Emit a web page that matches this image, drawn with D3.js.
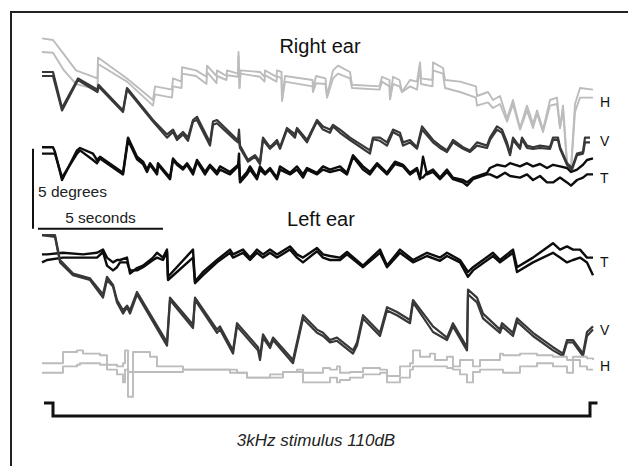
<!DOCTYPE html>
<html>
<head>
<meta charset="utf-8">
<script src="https://cdn.jsdelivr.net/npm/d3@7"></script>
<style>
  body { margin: 0; background: #fff; }
  svg { display: block; font-family: "Liberation Sans", Arial, sans-serif; }
</style>
</head>
<body>
<div id="chart"></div>
<script>
// Eye position traces during a 3kHz 110dB stimulus
// each row: [time (s), eye position line 1 (deg), line 2 (deg)]
const rightH = [
  [0, 12.6, 11.75], [0.44, 12.5, 11.7], [0.88, 11.6, 10.6], [1.36, 10.6, 9.75], [2.22, 10.1, 9.4],
  [2.24, 11.4, 11.0], [3.4, 10.1, 9.9], [4.44, 8.75, 8.4], [4.52, 9.6, 9.1], [5.2, 9.4, 8.9],
  [5.24, 10.1, 9.6], [5.58, 9.9, 9.5], [5.6, 10.8, 10.4], [6.16, 10.6, 10.25], [6.58, 10.2, 9.75],
  [6.6, 10.9, 10.5], [6.98, 10.25, 9.8], [7.0, 10.6, 10.25], [7.38, 10.25, 10.0], [7.4, 10.6, 10.3],
  [7.84, 10.4, 10.2], [7.86, 11.75, 11.5], [7.9, 9.5, 9.5], [7.94, 10.6, 10.4], [8.72, 10.5, 10.2],
  [8.9, 10.2, 9.9], [8.92, 10.6, 10.3], [9.38, 10.2, 9.9], [9.4, 10.6, 10.25], [9.58, 10.5, 10.1],
  [9.6, 8.7, 8.7], [9.72, 10.25, 9.9], [10.82, 10.0, 9.6], [10.84, 9.4, 9.25], [10.96, 10.25, 9.8],
  [11.34, 10.1, 9.75], [11.4, 9.0, 8.9], [11.64, 10.6, 10.1], [11.84, 10.9, 10.4], [12.32, 10.5, 10.1],
  [12.4, 9.7, 9.5], [13.5, 9.6, 9.4], [13.6, 10.2, 9.9], [13.9, 10.0, 9.6], [13.92, 8.8, 8.8],
  [14.04, 10.2, 9.75], [14.3, 10.0, 9.6], [14.4, 9.25, 9.25], [14.72, 10.0, 9.6], [15.0, 9.9, 9.4],
  [15.12, 11.1, 10.9], [15.16, 10.1, 9.75], [15.62, 10.0, 9.6], [15.64, 11.1, 10.6], [16.04, 10.75, 10.4],
  [16.12, 10.0, 9.5], [16.72, 9.9, 9.25], [17.36, 9.6, 8.9], [17.4, 9.0, 8.4], [17.84, 9.25, 8.6],
  [18.04, 8.75, 8.25], [18.32, 9.0, 8.5], [18.6, 7.6, 7.4], [18.84, 8.75, 8.5], [19.12, 7.0, 6.9],
  [19.4, 8.4, 8.1], [19.64, 7.25, 7.0], [19.8, 8.1, 7.9], [20.04, 6.9, 6.75], [20.32, 8.75, 8.4],
  [20.6, 8.9, 8.5], [20.72, 7.0, 7.0], [20.84, 8.4, 8.1], [21.0, 4.9, 4.7], [21.16, 4.4, 4.4],
  [21.32, 8.5, 8.0], [21.52, 9.5, 8.9], [22.04, 9.4, 8.9]
];

const rightV = [
  [0, 10.5, 10.25], [0.44, 10.5, 10.25], [0.8, 8.25, 8.1], [1.44, 10.1, 10.0], [2.22, 9.4, 9.25],
  [2.26, 9.7, 9.6], [3.24, 8.1, 8.0], [3.4, 9.5, 9.4], [4.44, 7.5, 7.4], [5.0, 6.6, 6.4],
  [5.24, 6.9, 6.75], [5.4, 6.4, 6.25], [5.64, 6.75, 6.6], [5.84, 6.4, 6.2], [6.04, 7.5, 7.4],
  [6.2, 7.7, 7.5], [6.72, 6.1, 5.9], [6.84, 7.4, 7.2], [7.0, 7.5, 7.3], [7.72, 6.4, 6.25],
  [7.84, 6.25, 6.1], [7.88, 6.9, 6.25], [7.92, 5.9, 5.75], [8.24, 5.0, 4.9], [8.52, 5.3, 5.2],
  [8.72, 4.9, 4.75], [8.84, 6.4, 6.25], [9.12, 5.8, 5.7], [9.4, 6.25, 6.1], [9.52, 5.8, 5.7],
  [9.8, 7.0, 6.9], [10.12, 6.6, 6.4], [10.2, 7.0, 6.9], [10.6, 6.25, 6.1], [10.84, 7.0, 6.9],
  [11.0, 7.5, 7.4], [11.24, 7.1, 6.9], [11.52, 6.9, 6.7], [11.64, 7.2, 7.1], [11.92, 6.9, 6.7],
  [12.32, 6.4, 6.25], [13.12, 5.6, 5.4], [13.24, 6.4, 6.3], [13.52, 6.4, 6.2], [13.8, 6.1, 5.9],
  [14.04, 6.9, 6.75], [14.32, 6.7, 6.5], [14.44, 6.1, 5.9], [14.72, 6.25, 6.1], [15.0, 5.8, 5.7],
  [15.2, 7.1, 6.9], [15.64, 6.25, 6.1], [15.92, 5.9, 5.75], [16.2, 5.6, 5.5], [16.44, 6.25, 6.1],
  [16.84, 5.8, 5.7], [17.12, 5.6, 5.5], [17.4, 6.1, 5.9], [17.8, 5.9, 5.75], [17.92, 6.4, 6.25],
  [18.2, 7.1, 6.9], [18.4, 6.9, 6.7], [18.6, 6.1, 5.9], [18.72, 5.4, 5.3], [18.84, 6.4, 6.25],
  [19.12, 5.8, 5.7], [19.2, 6.4, 6.3], [19.4, 5.9, 5.75], [19.64, 5.8, 5.7], [19.92, 5.9, 5.75],
  [20.32, 5.8, 5.7], [20.44, 6.4, 6.25], [20.64, 6.4, 6.25], [20.72, 5.8, 5.7], [21.0, 4.8, 4.7],
  [21.2, 4.5, 4.4], [21.4, 5.4, 5.3], [21.64, 5.5, 5.4], [21.72, 6.4, 6.1], [21.92, 6.4, 6.1]
];

const rightT = [
  [0, 5.8, 5.4], [0.44, 5.8, 5.4], [0.52, 5.5, 5.4], [0.8, 3.75, 3.9], [1.4, 5.6, 5.4],
  [1.52, 5.75, 5.6], [2.04, 5.4, 5.0], [2.2, 5.0, 4.8], [2.32, 5.2, 5.1], [3.24, 4.2, 4.1],
  [3.44, 6.4, 6.25], [3.8, 5.2, 5.05], [4.04, 4.9, 4.75], [4.2, 4.4, 4.25], [4.32, 4.8, 4.7],
  [4.6, 4.2, 4.1], [4.64, 4.8, 4.7], [5.12, 3.9, 3.8], [5.24, 5.1, 5.0], [5.4, 4.8, 4.7],
  [5.64, 4.5, 4.4], [5.8, 4.8, 4.7], [6.04, 4.25, 4.1], [6.2, 5.0, 4.9], [6.52, 4.25, 4.1],
  [6.72, 4.7, 4.6], [7.0, 4.25, 4.1], [7.12, 4.6, 4.4], [7.52, 4.25, 4.1], [7.84, 4.7, 4.6],
  [7.88, 4.7, 5.4], [7.92, 3.75, 3.6], [8.2, 4.25, 4.1], [8.32, 4.6, 4.4], [8.6, 3.9, 3.8],
  [8.72, 4.6, 4.4], [8.92, 4.2, 4.1], [9.12, 4.5, 4.4], [9.4, 3.9, 3.8], [9.52, 4.6, 4.4],
  [9.92, 4.2, 4.1], [10.2, 4.6, 4.4], [10.44, 4.1, 3.9], [10.6, 4.5, 4.4], [11.0, 4.2, 4.1],
  [11.24, 4.6, 4.4], [11.52, 4.4, 4.25], [11.92, 4.6, 4.4], [12.2, 4.2, 4.1], [12.44, 5.3, 5.2],
  [12.84, 4.6, 4.4], [13.12, 4.25, 4.1], [13.4, 4.8, 4.7], [13.8, 4.2, 4.1], [14.12, 4.9, 4.75],
  [14.44, 4.7, 4.6], [14.72, 4.2, 4.1], [15.0, 4.5, 4.4], [15.12, 3.9, 3.8], [15.24, 3.9, 5.2],
  [15.4, 4.2, 4.1], [15.64, 4.4, 4.25], [15.92, 3.9, 3.8], [16.2, 4.4, 4.25], [16.44, 3.9, 3.8],
  [16.84, 3.75, 3.6], [17.0, 3.6, 3.4], [17.24, 3.9, 3.8], [17.8, 4.2, 4.1], [17.92, 4.5, 4.1],
  [18.2, 4.7, 3.9], [18.52, 4.6, 4.2], [18.72, 4.8, 4.0], [19.12, 4.6, 3.9], [19.4, 4.8, 4.1],
  [19.64, 4.6, 3.75], [19.92, 4.75, 4.0], [20.2, 4.5, 3.6], [20.44, 4.7, 3.6], [20.72, 4.6, 3.9],
  [21.0, 4.5, 3.6], [21.16, 4.25, 3.4], [21.4, 4.4, 3.75], [21.64, 4.7, 3.9], [21.8, 5.0, 4.1],
  [22.04, 5.1, 4.1]
];

const leftT = [
  [0, -0.9, -1.4], [0.2, -0.9, -1.25], [0.84, -0.8, -1.1], [1.64, -0.9, -1.1], [2.2, -0.8, -1.1],
  [2.44, -0.6, -0.75], [2.6, -1.1, -1.6], [2.84, -1.4, -1.9], [3.0, -1.25, -1.7], [3.12, -1.25, -1.4],
  [3.4, -1.1, -1.4], [3.52, -2.1, -1.9], [3.8, -1.75, -1.9], [4.04, -1.6, -1.7], [4.44, -1.1, -1.25],
  [4.6, -0.8, -1.1], [4.84, -1.1, -1.25], [5.0, -0.6, -0.75], [5.04, -2.3, -2.5], [6.04, -0.6, -1.1],
  [6.12, -2.6, -2.7], [6.44, -2.0, -2.2], [7.0, -1.25, -1.4], [7.52, -0.6, -0.8], [7.64, -0.9, -1.1],
  [8.04, -0.6, -0.8], [8.32, -1.1, -1.25], [8.6, -0.6, -0.8], [8.84, -0.9, -1.1], [9.12, -0.6, -0.8],
  [9.4, -0.9, -1.1], [9.92, -0.4, -0.6], [10.2, -0.9, -1.1], [10.44, -1.1, -1.4], [11.0, -0.5, -0.7],
  [11.24, -0.9, -1.1], [11.52, -1.0, -1.25], [11.92, -1.1, -1.25], [12.2, -0.75, -0.9], [12.84, -1.6, -1.7],
  [13.52, -0.6, -0.8], [13.8, -1.6, -1.7], [14.32, -0.6, -0.8], [14.84, -1.25, -1.4], [15.4, -0.8, -1.0],
  [15.92, -1.1, -1.3], [16.2, -0.8, -1.0], [16.72, -1.25, -1.4], [17.04, -2.0, -2.3], [17.24, -1.7, -1.9],
  [18.04, -0.8, -1.0], [18.32, -1.25, -1.4], [18.84, -0.6, -0.8], [19.0, -1.7, -2.0], [19.64, -1.1, -1.4],
  [20.44, -0.2, -0.8], [20.72, -0.6, -1.1], [21.0, -0.4, -1.4], [21.24, -0.6, -1.25], [21.52, -0.6, -1.1],
  [21.8, -1.1, -1.4], [22.04, -1.1, -2.2]
];

const leftV = [
  [0, 0.3, 0.3], [0.52, 0.3, 0.2], [0.72, -1.25, -1.4], [1.24, -2.1, -2.2], [1.92, -2.4, -2.5],
  [2.44, -3.4, -3.6], [2.6, -2.3, -2.5], [2.84, -2.8, -2.9], [3.0, -3.75, -3.9], [3.24, -4.4, -4.6],
  [3.4, -4.1, -4.2], [3.52, -4.4, -4.6], [3.8, -3.25, -3.4], [5.0, -6.4, -6.6], [5.12, -3.6, -3.75],
  [6.04, -5.3, -5.5], [6.12, -3.6, -3.75], [7.0, -5.6, -5.8], [7.12, -5.4, -5.6], [7.64, -6.9, -7.1],
  [7.8, -5.2, -5.4], [8.64, -6.7, -6.9], [8.72, -7.3, -7.5], [8.84, -5.9, -6.1], [9.12, -6.6, -6.75],
  [9.24, -6.1, -6.25], [10.04, -7.5, -7.7], [10.44, -4.7, -4.9], [11.0, -5.6, -5.8], [11.24, -5.8, -6.0],
  [11.52, -6.25, -6.4], [11.8, -6.1, -6.3], [12.44, -6.9, -7.1], [12.6, -6.4, -6.6], [12.84, -4.7, -4.9],
  [13.52, -5.8, -6.0], [13.8, -4.2, -4.4], [14.2, -4.5, -4.7], [14.72, -5.0, -5.2], [14.84, -3.75, -3.9],
  [15.64, -5.4, -5.75], [16.2, -6.1, -6.25], [16.44, -5.2, -5.4], [17.0, -6.7, -6.9], [17.04, -3.1, -3.4],
  [17.4, -3.6, -3.9], [17.64, -4.6, -4.9], [18.32, -5.6, -5.8], [18.4, -5.2, -5.4], [18.84, -5.8, -6.0],
  [19.0, -4.9, -5.1], [19.64, -5.8, -6.0], [20.44, -6.7, -6.9], [20.84, -7.1, -7.25], [21.0, -6.25, -6.4],
  [21.24, -6.25, -6.4], [21.64, -7.1, -7.25], [21.8, -5.75, -6.0], [22.04, -5.4, -5.6]
];

const leftH = [
  [0, -7.7, -8.3], [0.84, -7.0, -7.9], [1.4, -6.9, -7.8], [1.52, -6.9, -7.7], [1.64, -7.1, -7.7],
  [2.32, -7.2, -7.8], [2.6, -7.8, -8.1], [3.0, -7.9, -8.4], [3.24, -7.7, -8.9], [3.32, -6.9, -8.1],
  [3.44, -9.8, -8.25], [3.64, -7.0, -8.25], [4.32, -7.3, -8.25], [4.6, -7.9, -8.25], [5.64, -8.1, -8.1],
  [7.52, -8.1, -8.3], [7.8, -8.3, -8.3], [8.2, -8.6, -8.6], [9.12, -8.4, -8.6], [9.64, -8.25, -8.25],
  [10.2, -8.1, -8.25], [10.44, -8.3, -8.9], [11.24, -8.0, -8.9], [11.52, -8.1, -8.6], [11.8, -7.9, -8.9],
  [11.92, -8.3, -8.75], [12.32, -8.25, -8.6], [12.84, -8.0, -8.4], [13.52, -8.1, -8.3], [13.8, -8.5, -8.9],
  [14.32, -7.9, -8.6], [14.72, -7.7, -8.1], [14.84, -6.9, -7.9], [15.12, -7.3, -7.9], [15.52, -7.1, -7.9],
  [15.72, -7.5, -7.9], [16.2, -7.3, -8.0], [16.44, -7.9, -8.1], [16.72, -7.5, -8.4], [17.0, -7.5, -8.9],
  [17.24, -7.9, -8.25], [17.52, -7.5, -8.1], [18.04, -7.5, -8.1], [18.32, -7.1, -8.1], [18.44, -7.2, -8.3],
  [19.12, -7.1, -7.9], [19.8, -7.2, -7.7], [20.44, -7.3, -7.9], [21.0, -7.5, -8.3], [21.24, -7.3, -7.5],
  [21.52, -7.3, -7.9], [21.8, -7.4, -8.1], [22.04, -7.5, -8.1]
];

// stimulus on/off (s) and scale bar sizes
const stimulus = [0.44, 21.92];
const barSeconds = 5;
const barDegrees = 5;

const width = 628;
const height = 466;

const svg = d3.select('#chart')
  .append('svg')
  .attr('width', width)
  .attr('height', height);

// scales: 25 px per second, 16 px per degree
const x = d3.scaleLinear().domain([0, 22.2]).range([42, 597]);
const y = d3.scaleLinear().domain([15, -15]).range([0, 480]);

// frame (image is cropped, only top and left edges show)
svg.append('path')
  .attr('d', `M11,${height} V12 H${width}`)
  .attr('fill', 'none')
  .attr('stroke', '#222')
  .attr('stroke-width', 2);

const styles = {
  H: { color: '#bcbcbc', w: 1.9 },
  V: { color: '#383838', w: 2.2 },
  T: { color: '#0d0d0d', w: 2.4 }
};

const traces = [
  { data: rightH, comp: 'H', labelDeg: 8.6 },
  { data: rightV, comp: 'V', labelDeg: 6.2 },
  { data: rightT, comp: 'T', labelDeg: 3.9 },
  { data: leftT, comp: 'T', labelDeg: -1.4 },
  { data: leftV, comp: 'V', labelDeg: -5.6 },
  { data: leftH, comp: 'H', labelDeg: -7.9, step: true }
];

traces.forEach(tr => {
  const st = styles[tr.comp];
  [1, 2].forEach(k => {
    const line = d3.line()
      .x(d => x(d[0]))
      .y(d => y(d[k]))
      .curve(tr.step ? d3.curveStepAfter : d3.curveLinear);
    svg.append('path')
      .datum(tr.data)
      .attr('d', line)
      .attr('fill', 'none')
      .attr('stroke', st.color)
      .attr('stroke-width', st.w)
      .attr('stroke-linejoin', 'round');
  });
  svg.append('text')
    .attr('x', 600)
    .attr('y', y(tr.labelDeg))
    .attr('dy', '0.35em')
    .attr('font-size', 14)
    .attr('fill', '#111')
    .text(tr.comp);
});

// titles
svg.append('text')
  .attr('x', 320).attr('y', 53)
  .attr('text-anchor', 'middle')
  .attr('font-size', 20)
  .attr('fill', '#111')
  .text('Right ear');

svg.append('text')
  .attr('x', 321).attr('y', 226)
  .attr('text-anchor', 'middle')
  .attr('font-size', 20)
  .attr('fill', '#111')
  .text('Left ear');

// scale bars
const barTop = 5.7;
const barT0 = -0.16;
svg.append('line')
  .attr('x1', 33).attr('x2', 33)
  .attr('y1', y(barTop)).attr('y2', y(barTop - barDegrees))
  .attr('stroke', '#111').attr('stroke-width', 2);
svg.append('line')
  .attr('x1', x(barT0)).attr('x2', x(barT0 + barSeconds))
  .attr('y1', y(barTop - barDegrees)).attr('y2', y(barTop - barDegrees))
  .attr('stroke', '#111').attr('stroke-width', 2);
svg.append('text')
  .attr('x', 38).attr('y', 197)
  .attr('font-size', 15.5)
  .attr('fill', '#222')
  .text(barDegrees + ' degrees');
svg.append('text')
  .attr('x', x(barT0 + barSeconds / 2)).attr('y', 223)
  .attr('text-anchor', 'middle')
  .attr('font-size', 15.5)
  .attr('fill', '#222')
  .text(barSeconds + ' seconds');

// stimulus bracket
const bTop = 403, bBot = 416;
svg.append('path')
  .attr('d', `M${x(stimulus[0] - 0.36)},${bTop} H${x(stimulus[0])} V${bBot} H${x(stimulus[1])} V${bTop} H${x(stimulus[1] + 0.3)}`)
  .attr('fill', 'none')
  .attr('stroke', '#111')
  .attr('stroke-width', 3);

svg.append('text')
  .attr('x', 316).attr('y', 446)
  .attr('text-anchor', 'middle')
  .attr('font-size', 17)
  .attr('font-style', 'italic')
  .attr('fill', '#222')
  .text('3kHz stimulus 110dB');
</script>
</body>
</html>
